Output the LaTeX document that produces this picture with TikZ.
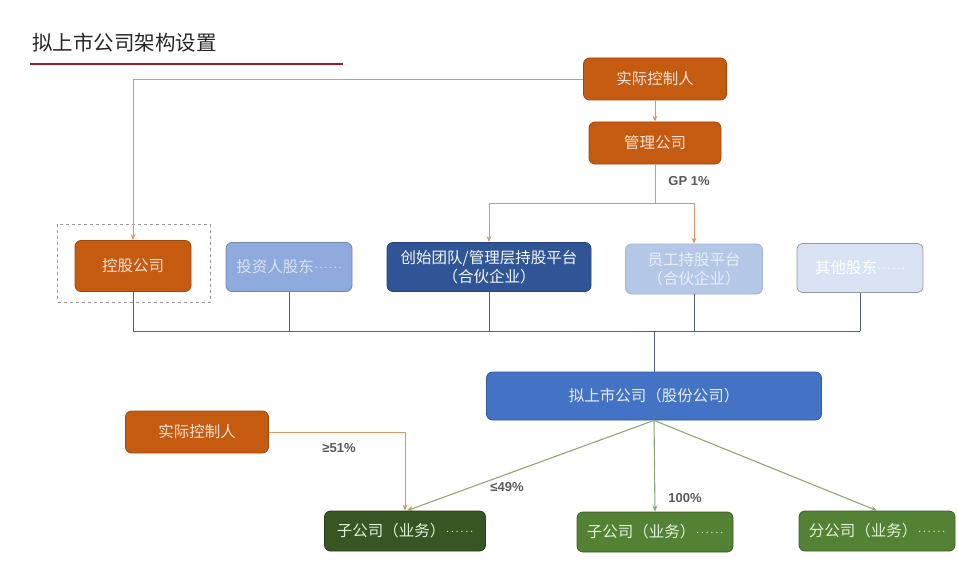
\documentclass[tikz,border=0pt]{standalone}
\usepackage{fontspec}
\setmainfont{Noto Sans CJK SC}
\newfontfamily\pctfont{Liberation Sans}
\usetikzlibrary{arrows.meta}

\definecolor{corange}{HTML}{C55A11}
\definecolor{corangedk}{HTML}{9E470D}
\definecolor{cpeach}{HTML}{FBE5D6}
\definecolor{corline}{HTML}{D9976C}
\definecolor{cblue}{HTML}{4472C4}
\definecolor{cbluedk}{HTML}{2F5597}
\definecolor{cbluelt}{HTML}{8FAADC}
\definecolor{cbluevlt}{HTML}{B4C7E7}
\definecolor{cbluepale}{HTML}{DAE3F3}
\definecolor{cgreen}{HTML}{548235}
\definecolor{cgreendk}{HTML}{375623}
\definecolor{cgreentxt}{HTML}{E2F0D9}
\definecolor{cgrline}{HTML}{8FA872}
\definecolor{cbus}{HTML}{4A6179}
\definecolor{clabel}{HTML}{595959}
\definecolor{ctitle}{HTML}{9B1B2A}

\newcommand\etcdots{\kern1pt\raisebox{0.3em}{\fontsize{10}{10}\selectfont.\kern2pt.\kern2pt.\kern2pt.\kern2pt.\kern2pt.}}

\begin{document}
\begin{tikzpicture}[x=1pt,y=-1pt,font=\fontsize{15.5}{19}\selectfont]
        \tikzstyle{box}=[rounded corners=6pt, draw, line width=0.8pt, align=center, inner sep=0pt]
        \tikzstyle{orangebox}=[box, fill=corange, draw=corangedk, text=cpeach, minimum width=143, minimum height=42]
        \tikzstyle{bluebox}=[box, minimum width=126, minimum height=49]
        \tikzstyle{greenbox}=[box, fill=cgreen, draw=cgreen!70!black, text=cgreentxt, minimum width=156, minimum height=40]
        \tikzstyle{orline}=[draw=corline, line width=0.9pt]
        \tikzstyle{grline}=[draw=cgrline, line width=1.1pt]
        \tikzstyle{busline}=[draw=cbus, line width=1pt]
        \tikzstyle{tip}=[-{Stealth[length=6pt,width=5pt]}]
        \tikzstyle{pct}=[text=clabel, font=\pctfont\fontsize{13}{15}\selectfont\bfseries, inner sep=1pt]
        \useasboundingbox (0,0) rectangle (958,567);
        % title
        \node[anchor=west, text=black!85, font=\fontsize{20.5}{24}\selectfont, inner sep=0pt] (title) at (32,43) {拟上市公司架构设置};
        \draw[ctitle, line width=2.5pt] (30,64) -- (343,64);
        % top part
        \node[orangebox] (sk1) at (655,79) {实际控制人};
        \node[orangebox, minimum width=132] (gl) at (655,143) {管理公司};
        \node[orangebox, minimum width=116, minimum height=51] (kg) at (133,266) {控股公司};
        \node[bluebox, fill=cbluelt, draw=cbluelt!80!black, text=cbluepale] (tz) at (289,267) {投资人股东\etcdots};
        \node[bluebox, fill=cbluedk, draw=cbluedk!80!black, text=white!90!cbluelt, minimum width=204] (cs) at (489,267) {创始团队/管理层持股平台\\（合伙企业）};
        \node[bluebox, fill=cbluevlt, draw=cbluevlt!90!black, text=cbluepale!60!white, minimum width=137, minimum height=50] (yg) at (694,269) {员工持股平台\\（合伙企业）};
        \node[bluebox, fill=cbluepale, draw=gray!80, text=white] (qt) at (860,268) {其他股东\etcdots};
        \draw[gray!80, dashed, line width=0.7pt] ([shift={(-17,-16)}]kg.north west) rectangle ([shift={(19,10)}]kg.south east);
        % ipo company
        \node[box, fill=cblue, draw=cblue!80!black, text=white!88!cblue, minimum width=335, minimum height=48] (ipo) at (654,396) {拟上市公司（股份公司）};
        % bottom part
        \node[orangebox] (sk2) at (197,432) {实际控制人};
        \node[greenbox, fill=cgreendk, draw=cgreendk!70!black, minimum width=161] (z1) at (405,531) {子公司（业务）\etcdots};
        \node[greenbox] (z2) at (655,532) {子公司（业务）\etcdots};
        \node[greenbox] (fg) at (877,531) {分公司（业务）\etcdots};
        % orange connectors
        \draw[orline, tip] (sk1.south) -- (gl.north);
        \coordinate (gp) at (655,203);
        \draw[orline] (gl.south) -- (gp);
        \draw[orline] (cs.north |- gp) -- (yg.north |- gp);
        \draw[orline, tip] (cs.north |- gp) -- (cs.north);
        \draw[orline, tip] (yg.north |- gp) -- (yg.north);
        \draw[orline, tip] (sk1.west) -| (kg.north);
        \draw[orline, tip] (sk2.east) -| (z1.north);
        \node[pct] (gplbl) at (689,181) {GP 1\%};
        \node[pct] (p51) at (339,448) {≥51\%};
        % shareholders bus
        \coordinate (bus) at (654,331);
        \foreach \n in {kg,tz,cs,yg,qt}
            \draw[busline] (\n.south) -- (\n.south |- bus);
        \draw[busline] (kg.south |- bus) -- (qt.south |- bus);
        \draw[busline] (ipo.north |- bus) -- (ipo.north);
        % green connectors
        \draw[grline, tip] (ipo.south) -- ([xshift=2pt]z1.north);
        \draw[grline, tip] (ipo.south) -- (z2.north);
        \draw[grline, tip] (ipo.south) -- (fg.north);
        \node[pct] (p49) at (507,487) {≤49\%};
        \node[pct] (p100) at (685,498) {100\%};
    \end{tikzpicture}
\end{document}
